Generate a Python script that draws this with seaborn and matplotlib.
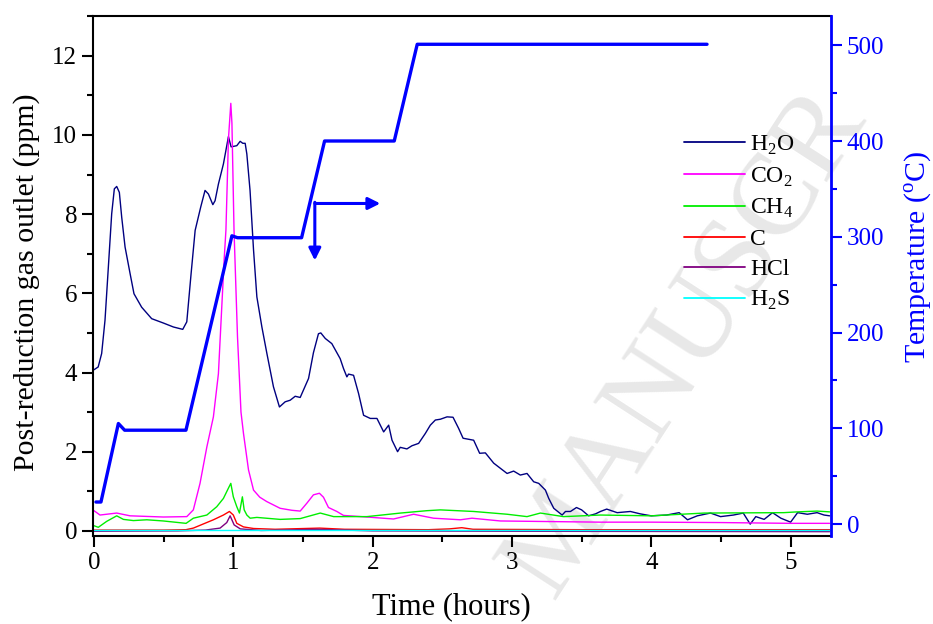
import matplotlib
matplotlib.use("Agg")
import matplotlib.pyplot as plt
from matplotlib.lines import Line2D
from matplotlib.ticker import MultipleLocator
import seaborn as sns
import pandas as pd

# gas outlet traces (time in hours, ppm)
h2o_t = [0.0, 0.03, 0.055, 0.079, 0.103, 0.127, 0.146, 0.163, 0.182, 0.199, 0.223, 0.259, 0.287,
         0.342, 0.414, 0.498, 0.570, 0.637, 0.666, 0.697, 0.726, 0.766, 0.797, 0.821, 0.853, 0.869,
         0.893, 0.929, 0.965, 0.984, 1.025, 1.049, 1.068, 1.085, 1.097, 1.12, 1.145, 1.169, 1.205,
         1.241, 1.288, 1.331, 1.372, 1.408, 1.444, 1.48, 1.54, 1.575, 1.611, 1.628, 1.66, 1.707,
         1.767, 1.791, 1.815, 1.827, 1.863, 1.899, 1.935, 1.983, 2.031, 2.079, 2.115, 2.139, 2.179,
         2.198, 2.246, 2.282, 2.33, 2.378, 2.414, 2.45, 2.486, 2.534, 2.577, 2.617, 2.649, 2.725,
         2.768, 2.809, 2.869, 2.917, 2.965, 3.012, 3.06, 3.108, 3.156, 3.192, 3.24, 3.264, 3.30,
         3.36, 3.384, 3.42, 3.463, 3.50, 3.55, 3.60, 3.635, 3.68, 3.755, 3.85, 3.92, 4.0, 4.11,
         4.20, 4.26, 4.33, 4.425, 4.497, 4.59, 4.66, 4.71, 4.75, 4.81, 4.87, 4.93, 5.0, 5.05, 5.12,
         5.19, 5.24, 5.28]
h2o_v = [4.07, 4.14, 4.48, 5.32, 6.66, 8.01, 8.64, 8.70, 8.55, 7.92, 7.17, 6.50, 5.99,
         5.65, 5.36, 5.25, 5.15, 5.09, 5.28, 6.50, 7.59, 8.18, 8.60, 8.51, 8.24, 8.34,
         8.76, 9.27, 9.96, 9.70, 9.73, 9.84, 9.79, 9.79, 9.52, 8.60, 7.10, 5.91, 5.15,
         4.48, 3.64, 3.13, 3.26, 3.30, 3.40, 3.37, 3.85, 4.50, 4.98, 5.00, 4.86, 4.73,
         4.35, 4.10, 3.89, 3.96, 3.93, 3.47, 2.92, 2.84, 2.84, 2.50, 2.67, 2.29, 2.00,
         2.11, 2.07, 2.15, 2.21, 2.46, 2.67, 2.80, 2.82, 2.88, 2.87, 2.59, 2.34, 2.29,
         1.96, 1.97, 1.71, 1.58, 1.45, 1.51, 1.41, 1.45, 1.24, 1.20, 1.03, 0.82, 0.57,
         0.40, 0.49, 0.49, 0.59, 0.53, 0.38, 0.43, 0.49, 0.55, 0.46, 0.49, 0.43, 0.38, 0.40,
         0.46, 0.28, 0.38, 0.45, 0.36, 0.40, 0.45, 0.17, 0.36, 0.29, 0.46, 0.32, 0.22, 0.46, 0.42,
         0.46, 0.40, 0.38]

co2_t = [0.0, 0.043, 0.163, 0.259, 0.498, 0.666, 0.713, 0.761, 0.81, 0.857, 0.893, 0.917, 0.935,
         0.947, 0.965, 0.982, 0.99, 1.005, 1.03, 1.055, 1.073, 1.109, 1.145, 1.19, 1.24, 1.336,
         1.42, 1.48, 1.528, 1.575, 1.618, 1.647, 1.683, 1.743, 1.791, 1.959, 2.15, 2.294, 2.437,
         2.63, 2.713, 2.917, 3.156, 3.635, 4.0, 4.5, 5.0, 5.28]
co2_v = [0.51, 0.40, 0.45, 0.38, 0.35, 0.36, 0.53, 1.20, 2.12, 2.88, 3.97, 5.65, 6.90,
         7.60, 9.90, 10.80, 10.30, 7.60, 4.90, 3.00, 2.46, 1.54, 1.03, 0.85, 0.74, 0.57,
         0.52, 0.50, 0.70, 0.91, 0.95, 0.85, 0.59, 0.49, 0.39, 0.35, 0.30, 0.42, 0.32,
         0.28, 0.32, 0.25, 0.24, 0.22, 0.22, 0.21, 0.19, 0.19]

ch4_t = [0.0, 0.031, 0.091, 0.163, 0.211, 0.283, 0.379, 0.498, 0.661, 0.713, 0.81, 0.881, 0.929,
         0.965, 0.982, 1.0, 1.025, 1.044, 1.065, 1.078, 1.097, 1.121, 1.169, 1.336, 1.48, 1.624,
         1.72, 1.959, 2.2, 2.39, 2.486, 2.725, 2.965, 3.108, 3.204, 3.37, 3.635, 4.0, 4.38, 4.95,
         5.05, 5.19, 5.28]
ch4_v = [0.13, 0.09, 0.24, 0.38, 0.29, 0.26, 0.28, 0.25, 0.19, 0.32, 0.40, 0.61, 0.82,
         1.08, 1.20, 0.86, 0.61, 0.45, 0.86, 0.53, 0.40, 0.32, 0.34, 0.29, 0.31, 0.45,
         0.36, 0.36, 0.45, 0.51, 0.53, 0.49, 0.42, 0.36, 0.45, 0.36, 0.40, 0.38, 0.45, 0.46,
         0.48, 0.50, 0.48]

c_t = [0.0, 0.5, 0.66, 0.713, 0.857, 0.929, 0.972, 1.0, 1.025, 1.073, 1.145, 1.3, 1.62, 1.8,
       2.4, 2.55, 2.64, 2.72, 3.5, 5.28]
c_v = [0.02, 0.02, 0.03, 0.07, 0.28, 0.40, 0.49, 0.40, 0.19, 0.10, 0.06, 0.04, 0.07, 0.04,
       0.03, 0.05, 0.08, 0.04, 0.03, 0.03]

hcl_t = [0.0, 0.6, 0.8, 0.905, 0.953, 0.977, 1.006, 1.05, 1.2, 1.6, 2.0, 3.0, 5.28]
hcl_v = [-0.01, 0.0, 0.02, 0.07, 0.21, 0.38, 0.15, 0.05, 0.01, 0.04, 0.0, -0.01, -0.02]

h2s_t = [0.0, 1.0, 2.0, 3.0, 4.0, 5.0, 5.28]
h2s_v = [0.01, 0.01, 0.01, 0.01, 0.01, 0.01, 0.01]

# furnace temperature programme
temp_t = [0.014, 0.05, 0.175, 0.22, 0.66, 0.99, 1.03, 1.49, 1.655, 2.155, 2.32, 4.40]
temp_v = [23, 23, 105, 98, 98, 301, 299, 299, 400, 400, 501, 501]

gases = ["H$_\\mathregular{2}$O", "CO$_\\mathregular{2}$", "CH$_\\mathregular{4}$", "C",
         "HCl", "H$_\\mathregular{2}$S"]
colors = ["#000080", "#ff00ff", "#00ee00", "#ff0000", "#800080", "#00ffff"]

frames = []
for name, t, v in zip(gases, [h2o_t, co2_t, ch4_t, c_t, hcl_t, h2s_t],
                      [h2o_v, co2_v, ch4_v, c_v, hcl_v, h2s_v]):
    frames.append(pd.DataFrame({"time": t, "ppm": v, "gas": name}))
df = pd.concat(frames, ignore_index=True)

sns.set_theme(style="ticks")
plt.rcParams["font.family"] = ["Liberation Serif", "DejaVu Serif"]
plt.rcParams["mathtext.fontset"] = "custom"
plt.rcParams["mathtext.rm"] = "Liberation Serif"
plt.rcParams["text.color"] = "black"
plt.rcParams["axes.labelcolor"] = "black"

fig, ax = plt.subplots(figsize=(9.33, 6.24), dpi=100)
fig.subplots_adjust(left=0.0997, right=0.8907, bottom=0.141, top=0.974)

# watermark behind everything
ax.patch.set_alpha(0)
fig.text(0.592, 0.038, "MANUSCR", rotation=57, fontsize=84, color="#e8e8e8",
         ha="left", va="baseline", rotation_mode="anchor", zorder=-5)

sns.lineplot(data=df, x="time", y="ppm", hue="gas", hue_order=gases,
             palette=dict(zip(gases, colors)), estimator=None, lw=1.0,
             legend=False, ax=ax)

ax.set_xlim(-0.007, 5.29)
ax.set_ylim(-0.13, 13.0)
ax.set_xlabel("Time (hours)", fontsize=22)
ax.set_ylabel("Post-reduction gas outlet (ppm)", fontsize=21.5)
ax.xaxis.set_label_coords(0.485, -0.108)
ax.yaxis.set_label_coords(-0.072, 0.488)
ax.xaxis.set_major_locator(MultipleLocator(1))
ax.xaxis.set_minor_locator(MultipleLocator(0.5))
ax.yaxis.set_major_locator(MultipleLocator(2))
ax.yaxis.set_minor_locator(MultipleLocator(1))
ax.tick_params(which="both", direction="out", width=1.5, colors="black", labelsize=18,
               top=False, right=False)
ax.tick_params(which="major", length=8)
ax.tick_params(which="minor", length=4.5)
for s in ["left", "bottom", "top"]:
    ax.spines[s].set_color("black")
    ax.spines[s].set_linewidth(1.5)
ax.spines["right"].set_visible(False)

ax.annotate("", xy=(2.055, 8.27), xytext=(1.585, 8.27),
            arrowprops=dict(arrowstyle="-|>", color="blue", lw=2.2, mutation_scale=18,
                            shrinkA=0, shrinkB=0))
ax.annotate("", xy=(1.585, 6.83), xytext=(1.585, 8.30),
            arrowprops=dict(arrowstyle="-|>", color="blue", lw=2.2, mutation_scale=18,
                            shrinkA=0, shrinkB=0))

handles = [Line2D([], [], color=c, lw=1.3) for c in colors]
ax.legend(handles, gases, loc="upper left", bbox_to_anchor=(0.772, 0.815), frameon=False,
          fontsize=17, handlelength=2.6, handletextpad=0.2, labelspacing=0.36)

ax2 = ax.twinx()
sns.lineplot(x=temp_t, y=temp_v, color="blue", lw=2.4, ax=ax2, estimator=None)
ax2.set_ylim(-12.5, 530.3)
ax2.yaxis.set_major_locator(MultipleLocator(100))
ax2.yaxis.set_minor_locator(MultipleLocator(50))
ax2.tick_params(which="both", direction="out", width=1.5, colors="blue", labelsize=18)
ax2.tick_params(which="major", length=8)
ax2.tick_params(which="minor", length=4.5)
ax2.set_ylabel("Temperature ($^\\mathregular{o}$C)", fontsize=21.5, color="blue")
ax2.yaxis.set_label_coords(1.097, 0.538)
ax2.spines["right"].set_color("blue")
ax2.spines["right"].set_linewidth(2.0)
for s in ["left", "bottom", "top"]:
    ax2.spines[s].set_visible(False)

fig.savefig("out.png", dpi=100)
